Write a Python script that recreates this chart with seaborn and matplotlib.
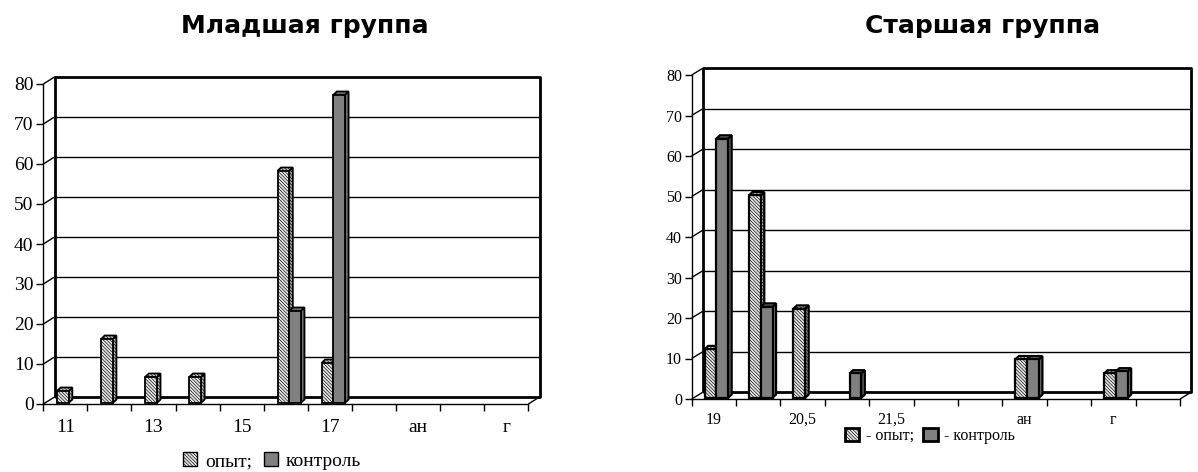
import numpy as np
import pandas as pd
import matplotlib
matplotlib.use("Agg")
import matplotlib.pyplot as plt
import seaborn as sns
from matplotlib.patches import Polygon, Patch
from matplotlib.transforms import ScaledTranslation

# ---------------- data ----------------
series = ["опыт", "контроль"]
y_ticks = [0, 10, 20, 30, 40, 50, 60, 70, 80]

young_title = "Младшая группа"
young_ticks = ["11", "", "13", "", "15", "", "17", "", "ан", "", "г"]
young_exp = [3, 16, 6.5, 6.5, 0, 58, 10, 0, 0, 0, 0]
young_ctl = [0, 0, 0, 0, 0, 23, 77, 0, 0, 0, 0]
young_legend = ["опыт;", "контроль"]

old_title = "Старшая группа"
old_ticks = ["19", "", "20,5", "", "21,5", "", "", "ан", "", "г", ""]
old_exp = [12, 50, 22, 0, 0, 0, 0, 9.5, 0, 6, 0]
old_ctl = [64, 22.5, 0, 6, 0, 0, 0, 9.5, 0, 6.5, 0]
old_legend = ["- опыт;", "- контроль"]

# ---------------- style ----------------
W, H, DPI = 1198, 472, 100
sns.set_theme(style="white")
plt.rcParams["font.family"] = ["Liberation Serif", "DejaVu Serif"]
plt.rcParams["hatch.linewidth"] = 0.45
for key in ["text.color", "axes.labelcolor", "xtick.color", "ytick.color"]:
    plt.rcParams[key] = "black"

EXP_FACE, CTL_FACE = "#e6e6e6", "#808080"
EXP_SIDE, CTL_SIDE = "#b8b8b8", "#6e6e6e"
EXP_TOP, CTL_TOP = "#dcdcdc", "#777777"
HATCH = "\\" * 10

fig = plt.figure(figsize=(W / DPI, H / DPI), dpi=DPI)


def axes_px(x0, x1, y_top, y_bottom):
    """Axes placed by pixel edges (y measured from the top of the figure)."""
    return fig.add_axes([x0 / W, 1 - y_bottom / H, (x1 - x0) / W, (y_bottom - y_top) / H])


def draw_chart(ax, ticks, exp, ctl, wall_px, bar_shift_px, bar_depth_px,
               font_size, xpad, bar_lw):
    n = len(ticks)
    ax_w = ax.get_position().width * W
    ax_h = ax.get_position().height * H
    per_cat = ax_w / n
    per_unit = ax_h / y_ticks[-1]

    df = pd.DataFrame({
        "slot": list(range(n)) * 2,
        "series": [series[0]] * n + [series[1]] * n,
        "value": list(exp) + list(ctl),
    })
    df = df[df["value"] > 0]

    sns.barplot(data=df, x="slot", y="value", hue="series",
                order=list(range(n)), hue_order=series,
                palette={series[0]: EXP_FACE, series[1]: CTL_FACE},
                width=0.53, dodge=True, saturation=1, legend=False,
                edgecolor="black", linewidth=bar_lw, ax=ax)

    ax.set_xlim(-0.5, n - 0.5)
    ax.set_ylim(0, y_ticks[-1])

    # back wall, floor edge and grid, set back in depth
    wdx = wall_px[0] / per_cat
    wdy = wall_px[1] / per_unit
    left, right, top = -0.5, n - 0.5, y_ticks[-1]
    kw = dict(color="black", clip_on=False, solid_capstyle="butt")
    for v in y_ticks[1:-1]:
        ax.plot([left + wdx, right + wdx], [v + wdy, v + wdy], lw=1.0, zorder=1, **kw)
    ax.plot([left + wdx, left + wdx, right + wdx, right + wdx, left + wdx],
            [wdy, top + wdy, top + wdy, wdy, wdy], lw=2.0, zorder=1.2, **kw)
    for v in y_ticks:
        ax.plot([left, left + wdx], [v, v + wdy], lw=1.0, zorder=1, **kw)
    ax.plot([right, right + wdx], [0, wdy], lw=1.0, zorder=1, **kw)

    # bars: hatching, small shift into depth, and 3D side / top faces
    shift = ScaledTranslation(bar_shift_px[0] / DPI, bar_shift_px[1] / DPI,
                              fig.dpi_scale_trans)
    tr = ax.transData + shift
    bdx = bar_depth_px[0] / per_cat
    bdy = bar_depth_px[1] / per_unit
    for bar in list(ax.patches):
        h = bar.get_height()
        if not np.isfinite(h) or h <= 0:
            bar.set_visible(False)
            continue
        is_exp = bar.get_facecolor()[0] > 0.8
        bar.set_transform(tr)
        bar.set_zorder(3)
        bar.set_clip_on(False)
        x0 = bar.get_x()
        x1 = x0 + bar.get_width()
        if is_exp:
            bar.set_hatch(HATCH)
        side = Polygon([(x1, 0), (x1 + bdx, bdy), (x1 + bdx, h + bdy), (x1, h)],
                       closed=True, facecolor=EXP_SIDE if is_exp else CTL_SIDE,
                       edgecolor="black", lw=bar_lw, transform=tr, zorder=2.9,
                       hatch=HATCH if is_exp else None, clip_on=False)
        roof = Polygon([(x0, h), (x0 + bdx, h + bdy), (x1 + bdx, h + bdy), (x1, h)],
                       closed=True, facecolor=EXP_TOP if is_exp else CTL_TOP,
                       edgecolor="black", lw=bar_lw, transform=tr, zorder=2.9,
                       hatch=HATCH if is_exp else None, clip_on=False)
        ax.add_patch(side)
        ax.add_patch(roof)

    # front axes
    for s in ["top", "right"]:
        ax.spines[s].set_visible(False)
    for s in ["left", "bottom"]:
        ax.spines[s].set_visible(True)
        ax.spines[s].set_color("black")
        ax.spines[s].set_linewidth(1.0)
        ax.spines[s].set_zorder(1)
    ax.set_yticks(y_ticks)
    ax.set_yticklabels([str(v) for v in y_ticks])
    ax.set_xticks(range(n))
    ax.set_xticklabels(ticks)
    ax.set_xticks(np.arange(-0.5, n, 1.0), minor=True)
    ax.tick_params(axis="y", which="major", direction="out", length=5, width=1,
                   color="black", pad=2, labelsize=font_size, left=True)
    ax.tick_params(axis="x", which="major", length=0, pad=xpad, labelsize=font_size,
                   bottom=True)
    ax.tick_params(axis="x", which="minor", direction="out", length=5, width=1,
                   color="black", bottom=True)
    ax.set_xlabel("")
    ax.set_ylabel("")
    ax.grid(False)
    ax.patch.set_visible(False)


def legend_for(labels, center_px, font_size, edge_lw, square):
    handles = [
        Patch(facecolor=EXP_FACE, edgecolor="black", hatch=HATCH, lw=edge_lw),
        Patch(facecolor=CTL_FACE, edgecolor="black", lw=edge_lw),
    ]
    fig.legend(handles, labels, loc="center",
               bbox_to_anchor=(center_px[0] / W, 1 - center_px[1] / H),
               ncol=2, frameon=False, fontsize=font_size,
               handlelength=square, handleheight=square, handletextpad=0.4,
               columnspacing=0.6, borderpad=0, borderaxespad=0)


# ---------------- left chart ----------------
ax1 = axes_px(43.3, 528.3, 84, 404)
draw_chart(ax1, young_ticks, young_exp, young_ctl,
           wall_px=(11.7, 7.3), bar_shift_px=(3.5, 1.2), bar_depth_px=(3.5, 3.3),
           font_size=14, xpad=11, bar_lw=1.3)
fig.text(305 / W, 1 - 33 / H, young_title, ha="center", va="baseline",
         fontsize=18, fontweight="bold", family="DejaVu Sans")
legend_for(young_legend, (272, 461), 14, 1.0, 0.75)

# ---------------- right chart ----------------
ax2 = axes_px(691.7, 1180, 75, 399)
draw_chart(ax2, old_ticks, old_exp, old_ctl,
           wall_px=(11.0, 6.7), bar_shift_px=(2.5, 1.2), bar_depth_px=(3.5, 3.3),
           font_size=11.5, xpad=9, bar_lw=1.6)
fig.text(983 / W, 1 - 33 / H, old_title, ha="center", va="baseline",
         fontsize=18, fontweight="bold", family="DejaVu Sans")
legend_for(old_legend, (930, 436), 11.5, 2.0, 0.9)

fig.savefig("out.png", dpi=DPI, facecolor="white")
